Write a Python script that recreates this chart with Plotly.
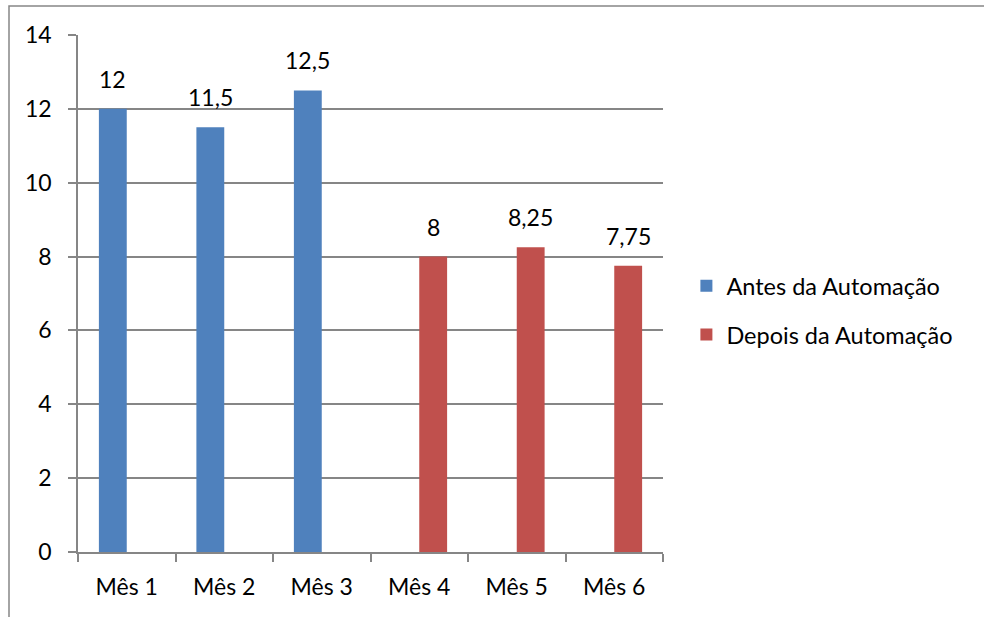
import plotly.graph_objects as go

categories = ["Mês 1", "Mês 2", "Mês 3", "Mês 4", "Mês 5", "Mês 6"]
antes = [12, 11.5, 12.5, None, None, None]
depois = [None, None, None, 8, 8.25, 7.75]
series_names = ["Antes da Automação", "Depois da Automação"]
colors = ["#4F81BD", "#C0504D"]

W, H = 984, 617
L, R, T, B = 78, 321, 35, 65
FONT = "Lato, Carlito, Calibri, sans-serif"
FS = 23

fig = go.Figure()
for i, (name, vals, col) in enumerate(zip(series_names, [antes, depois], colors)):
    fig.add_trace(go.Bar(x=categories, y=vals, name=name, marker_color=col,
                         marker_line_width=0, legendgroup=f"g{i}"))

def fmt(v):
    s = f"{v:g}"
    return s.replace(".", ",")

plot_w = W - L - R
cat_w = plot_w / len(categories)
bar_w = cat_w / 3.5
for k, vals in enumerate([antes, depois]):
    shift = (k - 0.5) * bar_w
    for c, v in zip(categories, vals):
        if v is None:
            continue
        fig.add_annotation(x=c, y=v, text=fmt(v), showarrow=False,
                           xshift=shift, yshift=14, yanchor="bottom",
                           font=dict(family=FONT, size=FS, color="black"))

gray = "#868686"
fig.update_layout(
    width=W, height=H,
    margin=dict(l=L, r=R, t=T, b=B),
    paper_bgcolor="white", plot_bgcolor="white",
    barmode="group", bargap=1.5 / 3.5, bargroupgap=0,
    font=dict(family=FONT, size=FS, color="black"),
    showlegend=True,
    legend=dict(x=1.04, xanchor="left", y=0.467, yanchor="middle",
                font=dict(family=FONT, size=FS + 0.5, color="black"),
                tracegroupgap=15, itemwidth=30),
    xaxis=dict(showline=True, linecolor=gray, linewidth=1.5,
               ticks="outside", tickson="boundaries", ticklen=8,
               tickcolor=gray, tickwidth=1.5, showgrid=False,
               ticklabelstandoff=14,
               tickfont=dict(family=FONT, size=FS, color="black")),
    yaxis=dict(range=[0, 14], dtick=2, showline=True, linecolor=gray,
               linewidth=1.5, ticks="outside", ticklen=8, tickcolor=gray,
               tickwidth=1.5, showgrid=True, gridcolor=gray, gridwidth=1.5,
               zeroline=False, ticklabelstandoff=12,
               tickfont=dict(family=FONT, size=FS, color="black")),
)

# outer chart frame (partially cropped in the original)
ph = H - T - B
fig.add_shape(type="rect", xref="paper", yref="paper",
              x0=(9 - L) / plot_w, x1=(W + 20 - L) / plot_w,
              y0=(H - B - (H + 20)) / ph, y1=(H - B - 6) / ph,
              line=dict(color=gray, width=1.5), layer="below")

fig.write_html("out.html")
